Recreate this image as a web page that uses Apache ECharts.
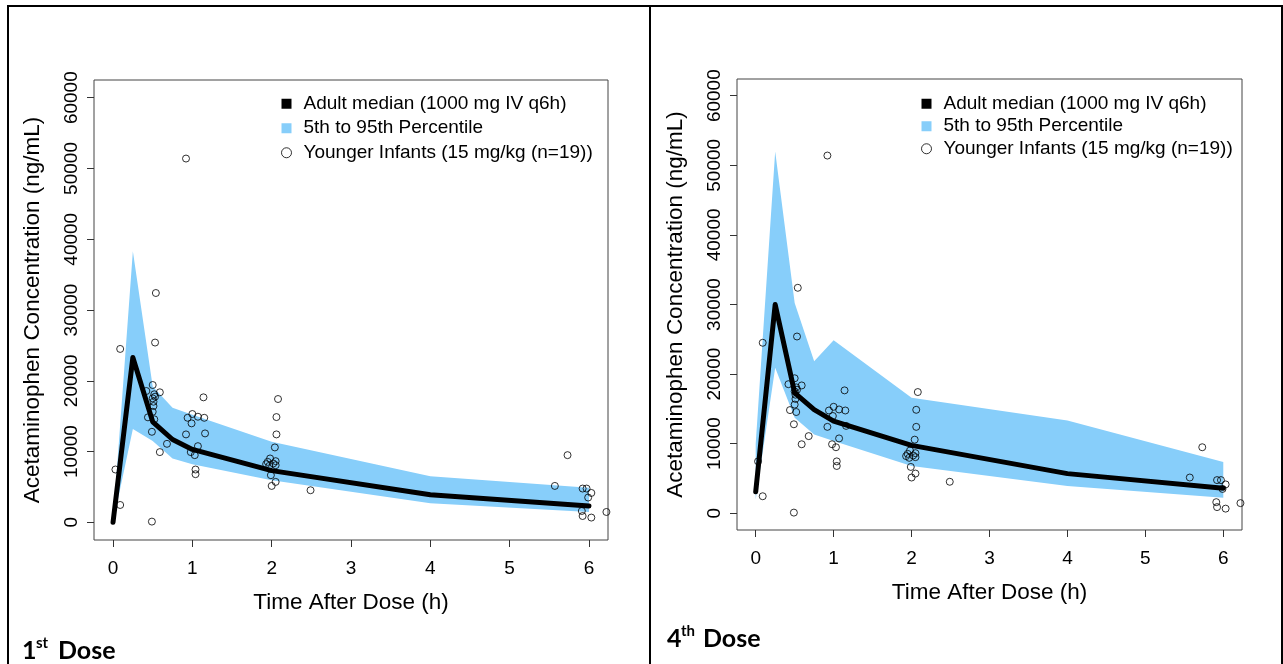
<!DOCTYPE html>
<html>
<head>
<meta charset="utf-8">
<script src="https://cdn.jsdelivr.net/npm/echarts@6/dist/echarts.min.js"></script>
<style>
  html, body { margin: 0; padding: 0; background: #fff; }
  #chart { width: 1283px; height: 664px; }
</style>
</head>
<body>
<div id="chart"></div>
<script>
// Nominal sampling times of the simulated adult profile (h)
const simTimes = [0, 0.25, 0.5, 0.75, 1, 2, 4, 6];

// 1st dose: adult median and 5th/95th percentile band (ng/mL)
const dose1Median = [0, 23300, 14200, 11700, 10300, 7300, 3900, 2300];
const dose1Lower  = [0, 13200, 11500, 9000, 8200, 5950, 2700, 1450];
const dose1Upper  = [0, 38300, 19200, 16200, 15200, 11400, 6500, 4900];

// 4th dose: adult median and 5th/95th percentile band (ng/mL)
const dose4Median = [3100, 30000, 17300, 14900, 13250, 9760, 5700, 3600];
const dose4Lower  = [2000, 20900, 13730, 11330, 10370, 6790, 3920, 2250];
const dose4Upper  = [10000, 52000, 30200, 21850, 24870, 16600, 13340, 7360];

// Observed concentrations in younger infants (time h, conc ng/mL)
const obsTime = [0.09, 0.53, 0.50, 0.42, 0.59, 0.52, 0.53, 0.50, 0.51, 0.51, 0.50, 0.44, 0.52, 0.49, 0.68, 0.59, 0.03, 0.09, 0.49,
  1.14, 1.00, 0.94, 1.07, 1.15, 0.99, 0.92, 1.16, 1.07, 0.98, 1.03, 1.04, 1.04, 0.92, 0.54,
  2.08, 2.06, 2.06, 2.04, 1.98, 1.95, 2.05, 1.93, 2.02, 2.05, 1.97, 1.99, 2.05, 2.00, 2.49,
  5.73, 5.57, 5.92, 5.97, 6.03, 5.99, 5.91, 5.92, 6.03, 6.22];
const obsConc = [24500, 25400, 19400, 18550, 18370, 18090, 17750, 17520, 17040, 16430, 15620, 14830, 14550, 12790, 11090, 9920, 7460, 2450, 100,
  17660, 15300, 14770, 14920, 14770, 13980, 12420, 12560, 10760, 9920, 9490, 7460, 6800, 51400, 32400,
  17420, 14870, 12420, 10580, 9020, 8540, 8640, 8220, 8310, 8070, 7970, 6660, 5710, 5140, 4530,
  9490, 5140, 4770, 4770, 4150, 3500, 1600, 890, 670, 1460];

// Axis ticks
const xTicks = [0, 1, 2, 3, 4, 5, 6];
const yTicks = [0, 10000, 20000, 30000, 40000, 50000, 60000];

const seriesNames = ['Adult median (1000 mg IV q6h)', '5th to 95th Percentile', 'Younger Infants (15 mg/kg (n=19))'];
const BAND = '#87CEFA';
const FONT = '"Liberation Sans", Arial, sans-serif';

function bandRenderer(times, lo, hi) {
  return function (params, api) {
    if (params.dataIndex !== 0) return;
    const pts = [];
    for (let i = 0; i < times.length; i++) pts.push(api.coord([times[i], hi[i]]));
    for (let i = times.length - 1; i >= 0; i--) pts.push(api.coord([times[i], lo[i]]));
    return { type: 'polygon', shape: { points: pts }, style: { fill: BAND } };
  };
}

function xAxisFor(gi) {
  return {
    gridIndex: gi, type: 'value', min: -0.24, max: 6.24,
    name: 'Time After Dose (h)', nameLocation: 'middle', nameGap: 51,
    nameTextStyle: { fontFamily: FONT, fontSize: 22.5, color: '#000' },
    axisLine: { show: false, onZero: false },
    axisTick: { show: true, inside: false, length: 7, customValues: xTicks, lineStyle: { color: '#333', width: 1 } },
    axisLabel: { customValues: xTicks, margin: 19, fontFamily: FONT, fontSize: 19, color: '#000', formatter: v => String(v) },
    splitLine: { show: false }
  };
}
function yAxisFor(gi, min, max) {
  return {
    gridIndex: gi, type: 'value', min: min, max: max,
    name: 'Acetaminophen Concentration (ng/mL)', nameLocation: 'middle', nameGap: 50,
    nameTextStyle: { fontFamily: FONT, fontSize: 22.5, color: '#000' },
    axisLine: { show: false, onZero: false },
    axisTick: { show: true, inside: false, length: 7, customValues: yTicks, lineStyle: { color: '#333', width: 1 } },
    axisLabel: { customValues: yTicks, rotate: 90, margin: 13, fontFamily: FONT, fontSize: 19, color: '#000', formatter: v => String(v) },
    splitLine: { show: false }
  };
}
function seriesFor(gi, med, lo, hi) {
  return [
    {
      name: seriesNames[1], type: 'custom', xAxisIndex: gi, yAxisIndex: gi,
      data: simTimes.map((t, i) => [t, lo[i], hi[i]]),
      encode: { x: 0, y: [1, 2] },
      renderItem: bandRenderer(simTimes, lo, hi),
      itemStyle: { color: BAND }, z: 1, silent: true
    },
    {
      name: seriesNames[0], type: 'line', xAxisIndex: gi, yAxisIndex: gi,
      data: simTimes.map((t, i) => [t, med[i]]),
      showSymbol: false, symbol: 'none',
      lineStyle: { color: '#000', width: 5, cap: 'round', join: 'round' },
      itemStyle: { color: '#000' }, z: 2, silent: true
    },
    {
      name: seriesNames[2], type: 'scatter', xAxisIndex: gi, yAxisIndex: gi,
      data: obsTime.map((t, i) => [t, obsConc[i]]),
      symbol: 'circle', symbolSize: 7,
      itemStyle: { color: 'rgba(0,0,0,0)', borderColor: '#000', borderWidth: 1 },
      z: 3, silent: true, clip: true
    }
  ];
}
function legendFor(left, top, lh) {
  return {
    orient: 'vertical', left: left, top: top, padding: 0, itemGap: 0,
    itemWidth: 10, itemHeight: 10, selectedMode: false,
    textStyle: { fontFamily: FONT, fontSize: 19, color: '#000', lineHeight: lh, padding: [0, 0, 0, 7] },
    data: [
      { name: seriesNames[0], icon: 'rect', itemStyle: { color: '#000' } },
      { name: seriesNames[1], icon: 'rect', itemStyle: { color: BAND } },
      { name: seriesNames[2], icon: 'circle', itemStyle: { color: 'rgba(0,0,0,0)', borderColor: '#000', borderWidth: 1 } }
    ]
  };
}

function doseLabel(x, y, num, sup) {
  return [
    { type: 'text', left: x, top: y, style: { text: num, font: 'bold 25px Lato, "Open Sans", sans-serif', fill: '#000' } },
    { type: 'text', left: x + 14, top: y - 2, style: { text: sup, font: 'bold 15px Lato, "Open Sans", sans-serif', fill: '#000' } },
    { type: 'text', left: x + 36, top: y, style: { text: 'Dose', font: 'bold 25px Lato, "Open Sans", sans-serif', fill: '#000' } }
  ];
}

const chart = echarts.init(document.getElementById('chart'), null, { renderer: 'canvas' });
chart.setOption({
  animation: false,
  backgroundColor: '#fff',
  grid: [
    { left: 94, top: 80, width: 514, height: 460, show: true, borderColor: '#444', borderWidth: 1, backgroundColor: 'transparent', containLabel: false, outerBoundsMode: 'none' },
    { left: 737, top: 79, width: 505, height: 451, show: true, borderColor: '#444', borderWidth: 1, backgroundColor: 'transparent', containLabel: false, outerBoundsMode: 'none' }
  ],
  xAxis: [xAxisFor(0), xAxisFor(1)],
  yAxis: [yAxisFor(0, -2500, 62500), yAxisFor(1, -2400, 62400)],
  legend: [legendFor(281, 91.5, 24.5), legendFor(921, 92.5, 22.5)],
  series: [].concat(
    seriesFor(0, dose1Median, dose1Lower, dose1Upper),
    seriesFor(1, dose4Median, dose4Lower, dose4Upper)
  ),
  graphic: [
    // table rules
    { type: 'rect', shape: { x: 7, y: 5, width: 1276, height: 2 }, style: { fill: '#000' } },
    { type: 'rect', shape: { x: 7, y: 5, width: 2, height: 659 }, style: { fill: '#000' } },
    { type: 'rect', shape: { x: 649, y: 5, width: 2, height: 659 }, style: { fill: '#000' } },
    { type: 'rect', shape: { x: 1281, y: 5, width: 2, height: 659 }, style: { fill: '#000' } }
  ].concat(doseLabel(22, 638, '1', 'st'), doseLabel(667, 626, '4', 'th'))
});
</script>
</body>
</html>
